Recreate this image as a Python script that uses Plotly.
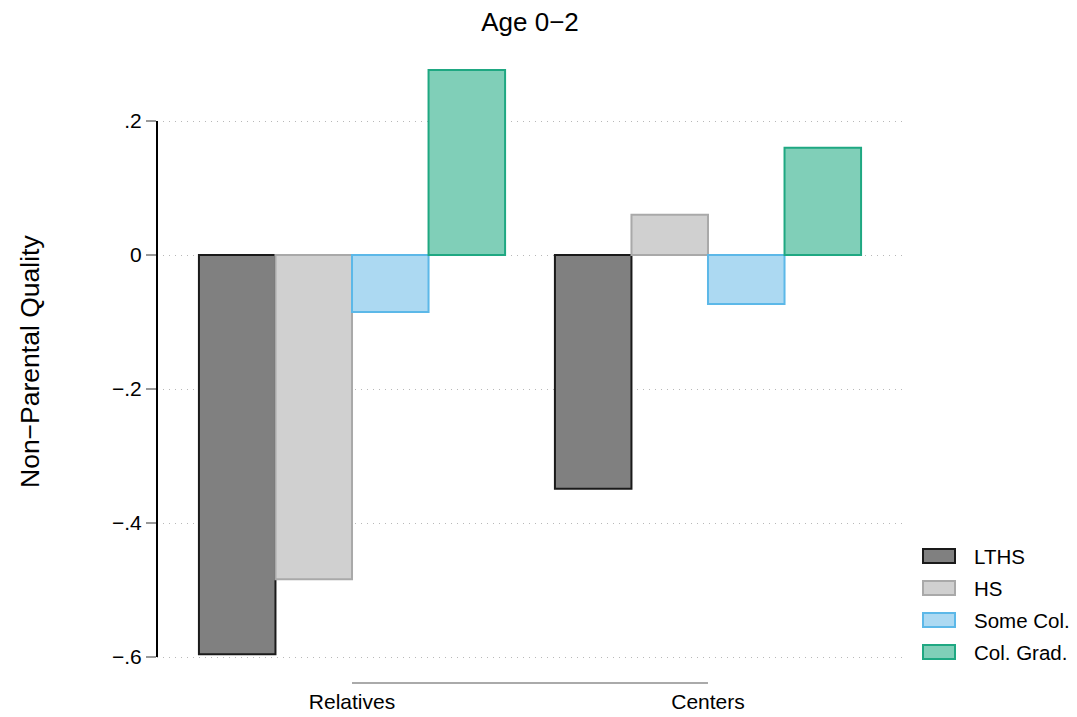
import plotly.graph_objects as go

# ---- data ----
categories = ["Relatives", "Centers"]
series_names = ["LTHS", "HS", "Some Col.", "Col. Grad."]
lths = [-0.596, -0.349]
hs = [-0.484, 0.060]
some_col = [-0.085, -0.073]
col_grad = [0.276, 0.160]
ytick_vals = [0.2, 0.0, -0.2, -0.4, -0.6]
ytick_text = [".2", "0", "\u2212.2", "\u2212.4", "\u2212.6"]

series_values = [lths, hs, some_col, col_grad]
fills = ["#808080", "#d0d0d0", "#acd9f2", "#80cfb8"]
lines = ["#1a1a1a", "#a9a9a9", "#5cb8e8", "#1fa882"]

FONT = "Liberation Sans, Arial, Helvetica, sans-serif"
xpos = list(range(len(categories)))

fig = go.Figure()
for name, vals, fc, lc in zip(series_names, series_values, fills, lines):
    fig.add_trace(go.Bar(
        x=xpos, y=vals, name=name,
        marker=dict(color=fc, line=dict(color=lc, width=2)),
        showlegend=False,
    ))

W, H = 1077, 717
ml, mr, mt, mb = 157, 174, 60, 34
plot_w = W - ml - mr
plot_h = H - mt - mb

shapes = []
annotations = []

# y axis line from lowest to highest tick
shapes.append(dict(type="line", xref="paper", yref="y", x0=0, x1=0,
                   y0=min(ytick_vals), y1=max(ytick_vals),
                   line=dict(color="#000000", width=2)))
# x axis line between first and last category
shapes.append(dict(type="line", xref="x", yref="paper", x0=xpos[0], x1=xpos[-1],
                   y0=0, y1=0, line=dict(color="#aaaaaa", width=2)))

# custom legend
leg_centers_px = [556, 588, 620, 652]
for name, fc, lc, cy in zip(series_names, fills, lines, leg_centers_px):
    y0 = (H - mb - (cy + 7)) / plot_h
    y1 = (H - mb - (cy - 7)) / plot_h
    x0 = (923 - ml) / plot_w
    x1 = (955 - ml) / plot_w
    shapes.append(dict(type="rect", xref="paper", yref="paper",
                       x0=x0, x1=x1, y0=y0, y1=y1,
                       fillcolor=fc, line=dict(color=lc, width=2)))
    annotations.append(dict(xref="paper", yref="paper",
                            x=(972 - ml) / plot_w, y=(H - mb - cy) / plot_h,
                            xanchor="left", yanchor="middle", showarrow=False,
                            text=name, font=dict(size=20.5, color="#000", family=FONT)))

# y-axis title
annotations.append(dict(xref="paper", yref="paper",
                        x=(30 - ml) / plot_w, y=(H - mb - 362) / plot_h,
                        xanchor="center", yanchor="middle", showarrow=False,
                        textangle=-90, text="Non\u2212Parental Quality",
                        font=dict(size=26.5, color="#000", family=FONT)))

fig.update_layout(
    width=W, height=H,
    margin=dict(l=ml, r=mr, t=mt, b=mb, pad=0, autoexpand=False),
    paper_bgcolor="white", plot_bgcolor="white",
    barmode="group", bargap=0.14, bargroupgap=0,
    title=dict(text="Age 0\u22122", x=0.5, xref="paper", xanchor="center",
               y=1 - 22 / H, yanchor="middle",
               font=dict(size=26, color="#000", family=FONT)),
    font=dict(family=FONT, color="#000"),
    shapes=shapes, annotations=annotations,
)

fig.update_xaxes(
    range=[-0.5478, 1.5478],
    tickvals=xpos, ticktext=categories,
    showgrid=False, zeroline=False, showline=False,
    ticks="", ticklabelstandoff=4, automargin=False,
    tickfont=dict(size=21, color="#000", family=FONT),
    fixedrange=True,
)
fig.update_yaxes(
    range=[-(H - mb - 255) / 670, (255 - mt) / 670],
    tickvals=ytick_vals, ticktext=ytick_text,
    showgrid=True, gridcolor="#b8b8b8", gridwidth=1, griddash="1px,5px",
    zeroline=False, showline=False, automargin=False,
    ticks="outside", ticklen=10, tickwidth=1.5, tickcolor="#999999",
    tickfont=dict(size=21, color="#000", family=FONT),
    fixedrange=True,
)

fig.write_html("out.html",
               config={"displayModeBar": False},
               post_script="document.body.style.margin='0';document.body.style.overflow='hidden';")
